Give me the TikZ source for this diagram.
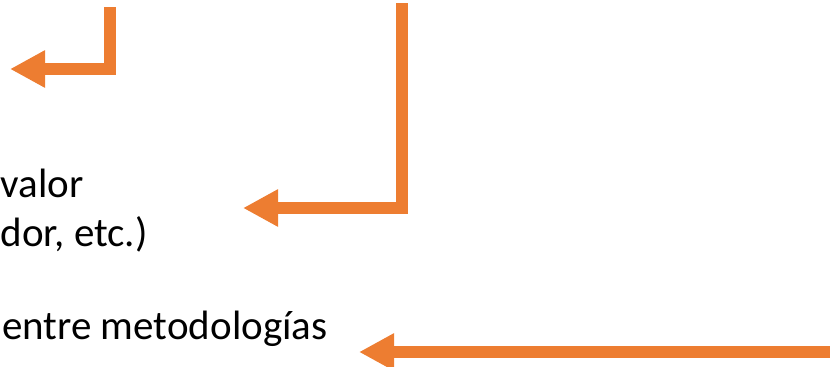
\documentclass[tikz,border=0pt]{standalone}
\usepackage{fontspec}
\setmainfont{Carlito}
\usetikzlibrary{arrows.meta}
\definecolor{naranja}{HTML}{ED7D31}
\begin{document}
\begin{tikzpicture}[x=1bp,y=-1bp,
    flecha/.style={draw=naranja, line width=12bp, line join=miter,
      -{Triangle[length=35bp,width=35bp]}},
    texto/.style={anchor=base west, inner sep=0pt,
      font=\fontsize{41bp}{50bp}\selectfont}]
    \clip (0,0) rectangle (830,366);
    \node[texto] (T0) at (0.5,197) {valor};
    \node[texto] (T1) at (0.5,246) {dor, etc.)};
    \node[texto] (T2) at (2,339) {entre metodologías};
    \coordinate (A0_0) at (110,7);
    \coordinate (A0_1) at (10,69);
    \coordinate (A1_0) at (402,3);
    \coordinate (A1_1) at (243,208);
    \coordinate (A2_0) at (836,352);
    \coordinate (A2_1) at (359,352);
    \path[flecha] (A0_0) |- (A0_1);
    \path[flecha] (A1_0) |- (A1_1);
    \path[flecha] (A2_0) -- (A2_1);
\end{tikzpicture}
\end{document}
